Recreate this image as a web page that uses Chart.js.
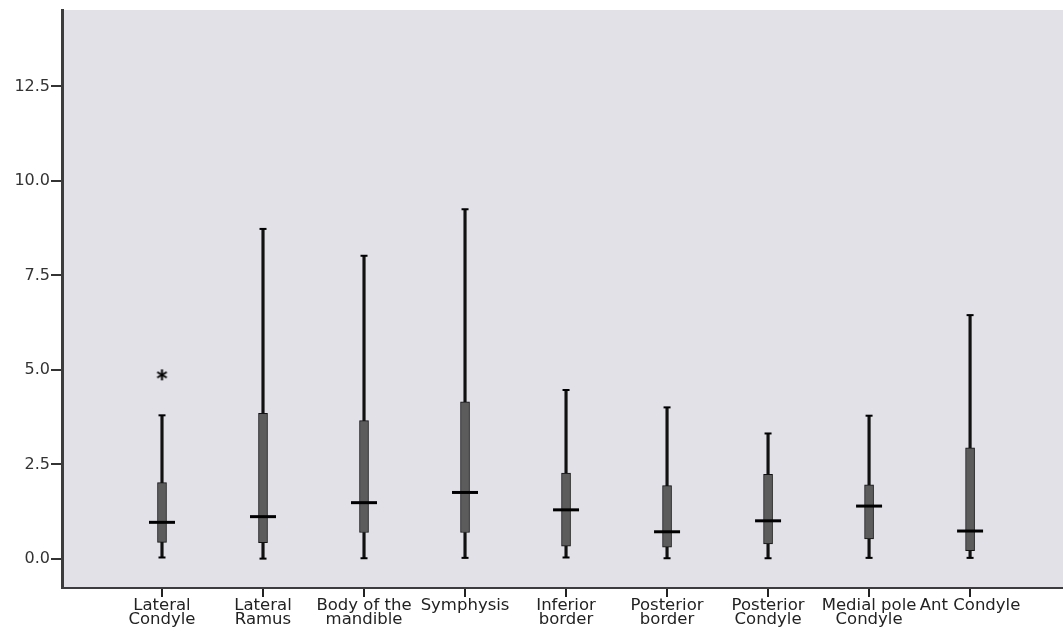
<!DOCTYPE html>
<html>
<head>
<meta charset="utf-8">
<script src="https://cdn.jsdelivr.net/npm/chart.js@4/dist/chart.umd.min.js"></script>
<style>
  html, body { margin: 0; padding: 0; background: #ffffff; }
  canvas { display: block; }
</style>
</head>
<body>
<canvas id="chart" width="1063" height="631"></canvas>
<script>
// Sites and their box-plot summaries
const categories = [
  ['Lateral', 'Condyle'],
  ['Lateral', 'Ramus'],
  ['Body of the', 'mandible'],
  ['Symphysis'],
  ['Inferior', 'border'],
  ['Posterior', 'border'],
  ['Posterior', 'Condyle'],
  ['Medial pole', 'Condyle'],
  ['Ant Condyle']
];
const whiskerLow  = [0.04, 0.01, 0.02, 0.03, 0.04, 0.02, 0.02, 0.03, 0.03];
const quartile1   = [0.44, 0.43, 0.70, 0.70, 0.34, 0.31, 0.40, 0.53, 0.22];
const medians     = [0.97, 1.12, 1.49, 1.76, 1.30, 0.72, 1.01, 1.40, 0.74];
const quartile3   = [2.02, 3.85, 3.66, 4.16, 2.27, 1.94, 2.24, 1.96, 2.94];
const whiskerHigh = [3.80, 8.73, 8.02, 9.25, 4.47, 4.01, 3.32, 3.79, 6.45];
// Extreme values plotted with an asterisk
const outlierSite  = [0];
const outlierValue = [4.87];
// Axis ticks
const yTickValues = [0, 2.5, 5, 7.5, 10, 12.5];

const idx = categories.map((_, i) => i);

// Six-ray asterisk marker
function makeAsterisk() {
  const c = document.createElement('canvas');
  c.width = 13; c.height = 13;
  const g = c.getContext('2d');
  g.strokeStyle = '#000';
  g.lineWidth = 2;
  g.lineCap = 'butt';
  const r = 5.5, cx = 6.5, cy = 6.5;
  [90, 30, -30].forEach(a => {
    const t = a * Math.PI / 180;
    g.beginPath();
    g.moveTo(cx - r * Math.cos(t), cy - r * Math.sin(t));
    g.lineTo(cx + r * Math.cos(t), cy + r * Math.sin(t));
    g.stroke();
  });
  return c;
}

// Gray plot panel
const plotBackground = {
  id: 'plotBackground',
  beforeDraw(chart) {
    const { ctx, chartArea: a } = chart;
    ctx.save();
    ctx.fillStyle = '#e2e1e7';
    ctx.fillRect(a.left, a.top, a.right - a.left, a.bottom - a.top);
    ctx.restore();
  }
};

const tickFont = { family: 'DejaVu Sans', size: 16 };

new Chart(document.getElementById('chart'), {
  type: 'bar',
  data: {
    datasets: [
      {
        type: 'line', label: 'median', order: 0, showLine: false,
        data: idx.map(i => ({ x: i, y: medians[i] })),
        pointStyle: 'line', pointRadius: 13, pointBorderWidth: 3,
        pointBorderColor: '#000', pointHoverRadius: 13
      },
      {
        type: 'line', label: 'caps', order: 1, showLine: false,
        data: idx.map(i => ({ x: i, y: whiskerLow[i] }))
          .concat(idx.map(i => ({ x: i, y: whiskerHigh[i] }))),
        pointStyle: 'line', pointRadius: 3.5, pointBorderWidth: 2,
        pointBorderColor: '#000'
      },
      {
        type: 'line', label: 'outliers', order: 1, showLine: false,
        data: outlierSite.map((s, k) => ({ x: s, y: outlierValue[k] })),
        pointStyle: makeAsterisk(), pointRadius: 6
      },
      {
        label: 'box', order: 2, grouped: false,
        data: idx.map(i => ({ x: i, y: [quartile1[i], quartile3[i]] })),
        backgroundColor: '#5c5c5c', borderColor: '#111', borderWidth: 1,
        borderSkipped: false, barThickness: 9
      },
      {
        label: 'lower whisker', order: 3, grouped: false,
        data: idx.map(i => ({ x: i, y: [whiskerLow[i], quartile1[i]] })),
        backgroundColor: '#111', borderWidth: 0, barThickness: 2.5
      },
      {
        label: 'upper whisker', order: 3, grouped: false,
        data: idx.map(i => ({ x: i, y: [quartile3[i], whiskerHigh[i]] })),
        backgroundColor: '#111', borderWidth: 0, barThickness: 2.5
      }
    ]
  },
  options: {
    responsive: false,
    animation: false,
    layout: { autoPadding: false, padding: { top: 10, right: 0, left: 0, bottom: 0 } },
    plugins: {
      legend: { display: false },
      tooltip: { enabled: false }
    },
    scales: {
      x: {
        type: 'linear',
        offset: false,
        min: -0.99,
        max: 8.92,
        afterBuildTicks: axis => { axis.ticks = idx.map(v => ({ value: v })); },
        afterFit: axis => {
          axis.height = 43;
          axis.paddingLeft = 0; axis.paddingRight = 0;
        },
        grid: {
          display: true, offset: false, drawOnChartArea: false, drawTicks: true,
          tickLength: 9, color: '#222', lineWidth: 2, tickColor: '#222', tickWidth: 2
        },
        border: { display: true, color: '#3c3c3c', width: 2 },
        ticks: {
          autoSkip: false, maxRotation: 0, minRotation: 0, padding: 1,
          color: '#222',
          font: { family: 'DejaVu Sans', size: 16.5, lineHeight: 0.88 },
          callback: v => categories[v]
        }
      },
      y: {
        type: 'linear',
        min: -0.767,
        max: 14.52,
        afterBuildTicks: axis => { axis.ticks = yTickValues.map(v => ({ value: v })); },
        afterFit: axis => {
          axis.width = 62;
          axis.paddingTop = 0; axis.paddingBottom = 0;
        },
        grid: { drawOnChartArea: false, drawTicks: true, tickLength: 11, color: '#333', lineWidth: 2 },
        border: { display: true, color: '#3c3c3c', width: 3 },
        ticks: {
          padding: 1, color: '#333', font: tickFont,
          callback: v => v.toFixed(1)
        }
      }
    }
  },
  plugins: [plotBackground]
});
</script>
</body>
</html>
